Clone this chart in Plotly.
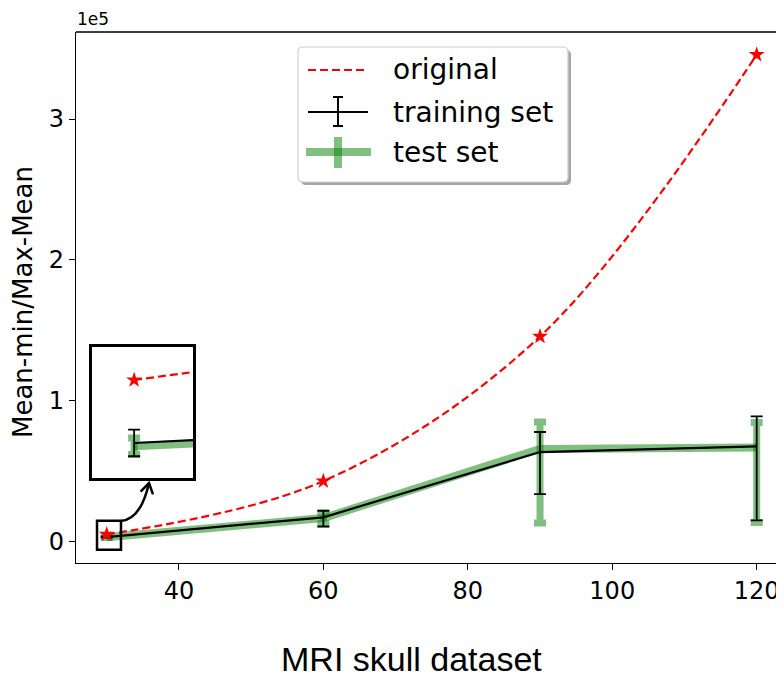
import math
import plotly.graph_objects as go

# ---- data ----
sizes = [30, 60, 90, 120]
original = [5400, 43200, 145800, 345600]
train_mean = [3500, 17500, 63800, 67800]
train_err_plus = [400, 4500, 14200, 21300]
train_err_minus = [400, 6500, 29800, 52500]
test_mean = [3400, 17000, 66000, 67100]
test_err_plus = [250, 4000, 19100, 17700]
test_err_minus = [250, 4000, 52500, 53200]
xtick_vals = [40, 60, 80, 100, 120]
xtick_text = ["40", "60", "80", "100", "120"]
ytick_vals = [0, 100000, 200000, 300000]
ytick_text = ["0", "1", "2", "3"]
legend_labels = ["original", "training set", "test set"]

RED = "#ff0000"
GREEN = "rgba(0,128,0,0.5)"
FONT = "DejaVu Sans"

# page body has an 8px margin; compensate so window pixels match
OFF = 8
W, H = 784, 678
ml, mt = 76 - OFF, 32 - OFF
mr = OFF
mb = H - (563 - OFF)
pw, ph = W - ml - mr, H - mt - mb


def px_x(p):
    return (p - OFF - ml) / pw


def px_y(p):
    return (H - mb - (p - OFF)) / ph


fig = go.Figure()


def add_series(xa, ya, shape):
    fig.add_trace(go.Scatter(
        x=sizes, y=test_mean, mode="lines", showlegend=False,
        line=dict(color=GREEN, width=8),
        error_y=dict(type="data", symmetric=False, array=test_err_plus,
                     arrayminus=test_err_minus, color=GREEN, thickness=7, width=6),
        xaxis=xa, yaxis=ya))
    fig.add_trace(go.Scatter(
        x=sizes, y=train_mean, mode="lines", showlegend=False,
        line=dict(color="black", width=2.2),
        error_y=dict(type="data", symmetric=False, array=train_err_plus,
                     arrayminus=train_err_minus, color="black", thickness=1.8, width=6),
        xaxis=xa, yaxis=ya))
    fig.add_trace(go.Scatter(
        x=sizes, y=original, mode="lines+markers", showlegend=False,
        line=dict(color=RED, width=2.2, dash="8px,4px", shape=shape),
        marker=dict(symbol="star", size=12, color=RED, line=dict(width=0)),
        xaxis=xa, yaxis=ya))


add_series("x", "y", "spline")
add_series("x2", "y2", "linear")

axis_font = dict(family=FONT, size=24, color="black")

fig.update_layout(
    width=W, height=H,
    margin=dict(l=ml, r=mr, t=mt, b=mb),
    paper_bgcolor="white", plot_bgcolor="white",
    showlegend=False,
    xaxis=dict(range=[25.75, 123.78], tickvals=xtick_vals, ticktext=xtick_text,
               showgrid=False, zeroline=False, showline=True, linecolor="black",
               linewidth=1.3, ticks="outside", ticklen=6, tickcolor="black",
               tickfont=axis_font, domain=[0, 1]),
    yaxis=dict(range=[-14900, 361700], tickvals=ytick_vals, ticktext=ytick_text,
               showgrid=False, zeroline=False, showline=True, linecolor="black",
               linewidth=1.3, ticks="outside", ticklen=6, tickcolor="black",
               tickfont=axis_font, domain=[0, 1]),
    xaxis2=dict(domain=[px_x(92), px_x(193)], range=[29.864, 30.19],
                anchor="y2", showgrid=False, zeroline=False, showticklabels=False,
                ticks="", showline=True, mirror=True, linecolor="black", linewidth=2.5),
    yaxis2=dict(domain=[px_y(478), px_y(347)], range=[2444, 6395],
                anchor="x2", showgrid=False, zeroline=False, showticklabels=False,
                ticks="", showline=True, mirror=True, linecolor="black", linewidth=2.5),
)

# top spine
fig.add_shape(type="line", xref="paper", yref="paper", x0=0, x1=1, y0=1, y1=1,
              line=dict(color="black", width=1.3))
# small zoom rectangle on main axes
fig.add_shape(type="rect", xref="x", yref="y", x0=28.66, x1=31.98, y0=-5500, y1=15100,
              line=dict(color="black", width=2.5))

# curved arrow from rectangle to inset
p0, pc, p1 = (121, 521), (141, 519), (149, 483)
fig.add_shape(type="path", xref="paper", yref="paper",
              path=f"M {px_x(p0[0])},{px_y(p0[1])} Q {px_x(pc[0])},{px_y(pc[1])} {px_x(p1[0])},{px_y(p1[1])}",
              line=dict(color="black", width=2.5))
dx, dy = pc[0] - p1[0], pc[1] - p1[1]
L = math.hypot(dx, dy)
ux, uy = dx / L, dy / L
arms = []
for ang in (math.radians(32), -math.radians(32)):
    ca, sa = math.cos(ang), math.sin(ang)
    ax_ = ux * ca - uy * sa
    ay_ = ux * sa + uy * ca
    arms.append((p1[0] + 12 * ax_, p1[1] + 12 * ay_))
fig.add_shape(type="path", xref="paper", yref="paper",
              path=(f"M {px_x(arms[0][0])},{px_y(arms[0][1])} L {px_x(p1[0])},{px_y(p1[1])} "
                    f"L {px_x(arms[1][0])},{px_y(arms[1][1])}"),
              line=dict(color="black", width=2.5))

# ---- legend (drawn) ----
bx0, by0, bx1, by1, r = 298, 47, 568, 182, 5


def rounded(x0, y0, x1, y1, rr):
    pts = [
        f"M {px_x(x0 + rr)},{px_y(y0)}",
        f"L {px_x(x1 - rr)},{px_y(y0)}",
        f"Q {px_x(x1)},{px_y(y0)} {px_x(x1)},{px_y(y0 + rr)}",
        f"L {px_x(x1)},{px_y(y1 - rr)}",
        f"Q {px_x(x1)},{px_y(y1)} {px_x(x1 - rr)},{px_y(y1)}",
        f"L {px_x(x0 + rr)},{px_y(y1)}",
        f"Q {px_x(x0)},{px_y(y1)} {px_x(x0)},{px_y(y1 - rr)}",
        f"L {px_x(x0)},{px_y(y0 + rr)}",
        f"Q {px_x(x0)},{px_y(y0)} {px_x(x0 + rr)},{px_y(y0)} Z",
    ]
    return " ".join(pts)


fig.add_shape(type="path", xref="paper", yref="paper", path=rounded(bx0 + 3, by0 + 3, bx1 + 3, by1 + 3, r),
              fillcolor="rgba(0,0,0,0.35)", line=dict(width=0))
fig.add_shape(type="path", xref="paper", yref="paper", path=rounded(bx0, by0, bx1, by1, r),
              fillcolor="white", line=dict(color="#d0d0d0", width=1.2))


def seg(x0, y0, x1, y1, color, width, dash=None):
    line = dict(color=color, width=width)
    if dash:
        line["dash"] = dash
    fig.add_shape(type="line", xref="paper", yref="paper",
                  x0=px_x(x0), y0=px_y(y0), x1=px_x(x1), y1=px_y(y1), line=line)


row_y = [70, 112, 152]
seg(308, row_y[0], 368, row_y[0], RED, 2.2, "8px,4px")
seg(308, row_y[1], 368, row_y[1], "black", 2)
seg(338, row_y[1] - 15, 338, row_y[1] + 14, "black", 2)
seg(333, row_y[1] - 15, 343, row_y[1] - 15, "black", 2)
seg(333, row_y[1] + 14, 343, row_y[1] + 14, "black", 2)
seg(306, row_y[2], 371, row_y[2], GREEN, 8)
seg(338, row_y[2] - 15, 338, row_y[2] + 16, GREEN, 8)

for lab, yy in zip(legend_labels, row_y):
    fig.add_annotation(xref="paper", yref="paper", x=px_x(391), y=px_y(yy),
                       xanchor="left", yanchor="middle", text=lab, showarrow=False,
                       font=dict(family=FONT, size=28, color="black"))

# offset text
fig.add_annotation(xref="paper", yref="paper", x=0, y=px_y(19),
                   xanchor="left", yanchor="middle", text="1e5", showarrow=False,
                   borderpad=0, font=dict(family=FONT, size=17, color="black"))
# y title
fig.add_annotation(xref="paper", yref="paper", x=px_x(23), y=px_y(302),
                   xanchor="center", yanchor="middle", textangle=-90,
                   text="Mean-min/Max-Mean", showarrow=False,
                   font=dict(family=FONT, size=26, color="black"))
# x title
fig.add_annotation(xref="paper", yref="paper", x=px_x(411), y=px_y(659),
                   xanchor="center", yanchor="middle", borderpad=0,
                   text="MRI skull dataset", showarrow=False,
                   font=dict(family="Liberation Sans", size=34, color="black"))

fig.write_html("out.html")
